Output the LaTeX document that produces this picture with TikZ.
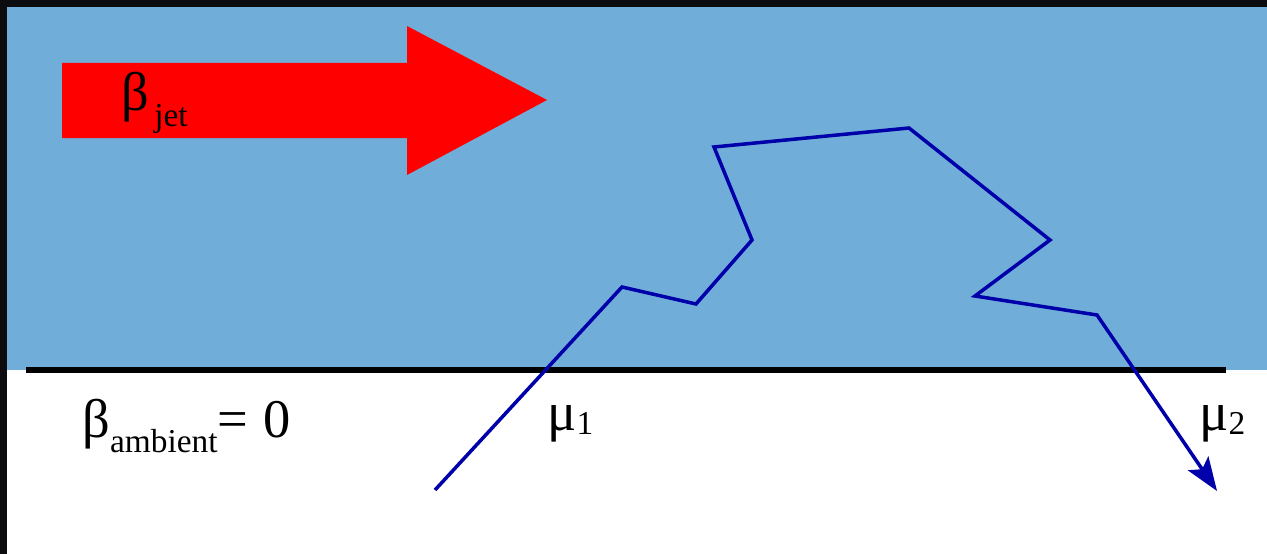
\documentclass[tikz,border=0pt]{standalone}
\usepackage{fontspec}
\setmainfont{Liberation Serif}
\usetikzlibrary{arrows.meta}
\definecolor{jetblue}{RGB}{112,174,217}
\definecolor{frm}{RGB}{12,12,14}
\definecolor{track}{RGB}{0,0,170}
% label with a lowered index
\newcommand{\lowidx}[3]{#1\raisebox{-#3}{\fontsize{19}{20}\selectfont #2}}

\begin{document}
\begin{tikzpicture}[
        x=0.02cm, y=-0.02cm,
        lbl/.style={anchor=base west, inner sep=0pt, font=\fontsize{31}{34}\selectfont},
    ]
        % Frame and background
        \fill[frm] (0, 0) rectangle (1267, 554);
        \fill[white] (7, 7) rectangle (1267, 554);
        \fill[jetblue] (7, 7) rectangle (1267, 370); % jet region

        % Jet arrow
        \fill[red] (62, 63) -- (407, 63) -- (407, 26) -- (547, 100)
            -- (407, 175) -- (407, 138) -- (62, 138) -- cycle;
        \node[lbl] (BJET) at (121, 111) {\lowidx{β}{\hspace{3pt}jet}{9pt}};

        % Boundary
        \draw[line width=2.9pt] (26, 370) -- (1226, 370);
        \node[lbl] (BAMB) at (82, 437) {\lowidx{β}{ambient}{9pt}=\hspace{1pt} 0};

        % Muon track points
        \coordinate (T0) at (435, 490);
        \coordinate (T1) at (622, 287);
        \coordinate (T2) at (696, 304);
        \coordinate (T3) at (752, 240);
        \coordinate (T4) at (714, 147);
        \coordinate (T5) at (909, 128);
        \coordinate (T6) at (1050, 240);
        \coordinate (T7) at (975, 296);
        \coordinate (T8) at (1097, 315);
        \coordinate (T9) at (1217, 491);

        \draw[track, line width=2pt, -{Stealth[length=19pt, width=14pt, inset=4pt]}]
            (T0) -- (T1) -- (T2) -- (T3) -- (T4) -- (T5) -- (T6) -- (T7) -- (T8) -- (T9);

        \node[lbl] (MU1) at (547, 430) {\lowidx{μ}{1}{2.3pt}};
        \node[lbl] (MU2) at (1199, 430) {\lowidx{μ}{2}{2.3pt}};
    \end{tikzpicture}
\end{document}
